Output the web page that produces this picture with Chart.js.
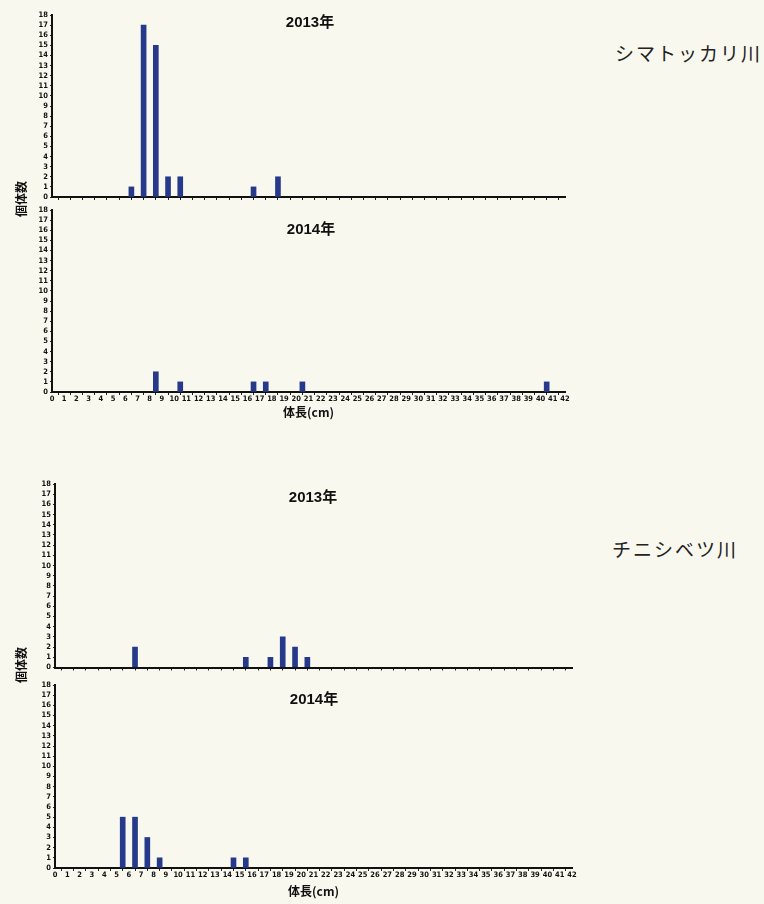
<!DOCTYPE html>
<html><head><meta charset="utf-8">
<script src="https://cdn.jsdelivr.net/npm/chart.js@4"></script>
<style>
body{margin:0;background:#f8f8ef;width:764px;height:904px;overflow:hidden;position:relative;font-family:'Liberation Sans','Noto Sans CJK JP',sans-serif;}
canvas{position:absolute;left:0;}
.t{position:absolute;font-weight:bold;font-size:15px;color:#111;transform:translate(-50%,-50%);white-space:nowrap;font-family:'Liberation Sans','Noto Sans CJK JP',sans-serif;}
.yl{position:absolute;font-weight:bold;font-size:12px;color:#111;transform:translate(-50%,-50%) rotate(-90deg);white-space:nowrap;font-family:'Noto Sans CJK JP',sans-serif;}
.river{position:absolute;font-size:19px;color:#222;font-family:'Noto Sans CJK JP',sans-serif;transform:translateY(-50%);letter-spacing:2px;white-space:nowrap;}
</style></head>
<body>
<canvas id="c1" width="600" height="200" style="top:5px"></canvas>
<canvas id="c2" width="600" height="225" style="top:200px"></canvas>
<canvas id="c3" width="600" height="200" style="top:474px"></canvas>
<canvas id="c4" width="600" height="229" style="top:675px"></canvas>

<div class="t" style="left:310px;top:20px">2013年</div>
<div class="t" style="left:311px;top:227px">2014年</div>
<div class="t" style="left:313px;top:495px">2013年</div>
<div class="t" style="left:314px;top:697px">2014年</div>
<div class="yl" style="left:20px;top:199px">個体数</div>
<div class="yl" style="left:20px;top:665px">個体数</div>
<div class="river" style="left:615px;top:52px">シマトッカリ川</div>
<div class="river" style="left:612px;top:548px">チニシベツ川</div>

<script>
// 体長階級 (cm, lower bound of 1 cm bin) and 個体数
const shimaBins2013 = [6, 7, 8, 9, 10, 16, 18];
const shimaCounts2013 = [1, 17, 15, 2, 2, 1, 2];
const shimaBins2014 = [8, 10, 16, 17, 20, 40];
const shimaCounts2014 = [2, 1, 1, 1, 1, 1];
const chiniBins2013 = [6, 15, 17, 18, 19, 20];
const chiniCounts2013 = [2, 1, 1, 3, 2, 1];
const chiniBins2014 = [5, 6, 7, 8, 14, 15];
const chiniCounts2014 = [5, 5, 3, 1, 1, 1];
const xRange = [0, 42];
const yRange = [0, 18];
const xTitle = '体長(cm)';

const BAR = '#26398a';
const tickFont = {family: "'DejaVu Sans Condensed','Liberation Sans Narrow',sans-serif", size: 7.5, weight: 'bold'};

function panel(id, bins, counts, o) {
  return new Chart(document.getElementById(id), {
    type: 'bar',
    data: {datasets: [{
      data: bins.map((b, i) => ({x: b + 0.5, y: counts[i]})),
      backgroundColor: BAR, barThickness: 5, borderWidth: 0
    }]},
    options: {
      responsive: false, animation: false,
      layout: {padding: {left: 0, right: o.padR, top: 10, bottom: o.padB}},
      plugins: {legend: {display: false}, tooltip: {enabled: false}},
      scales: {
        x: {
          type: 'linear', min: xRange[0], max: xRange[1], offset: false,
          ticks: {display: o.showX, stepSize: 1, autoSkip: false, maxRotation: 0, minRotation: 0,
                  padding: 0, font: tickFont, color: '#111', callback: v => String(v)},
          grid: {drawOnChartArea: false, drawTicks: true, tickLength: 3, color: '#222'},
          border: {display: true, color: '#111', width: 2},
          title: {display: o.showX, text: xTitle, color: '#111', padding: {top: 0, bottom: 0},
                  font: {family: "'Noto Sans CJK JP',sans-serif", size: 12, weight: 'bold'}},
          afterFit: s => { s.height = o.xH; }
        },
        y: {
          min: yRange[0], max: yRange[1],
          ticks: {stepSize: 1, autoSkip: false, padding: 2, font: tickFont, color: '#111'},
          grid: {drawOnChartArea: false, drawTicks: true, tickLength: 2, color: '#222'},
          border: {display: true, color: '#111', width: 2},
          afterFit: s => { s.width = o.left; }
        }
      }
    }
  });
}

panel('c1', shimaBins2013, shimaCounts2013, {left: 52, padR: 35, padB: 4, xH: 4, showX: false});
panel('c2', shimaBins2014, shimaCounts2014, {left: 52, padR: 35, padB: 5, xH: 28, showX: true});
panel('c3', chiniBins2013, chiniCounts2013, {left: 55, padR: 28, padB: 2, xH: 4, showX: false});
panel('c4', chiniBins2014, chiniCounts2014, {left: 55, padR: 28, padB: 5, xH: 31, showX: true});
</script>
</body></html>
